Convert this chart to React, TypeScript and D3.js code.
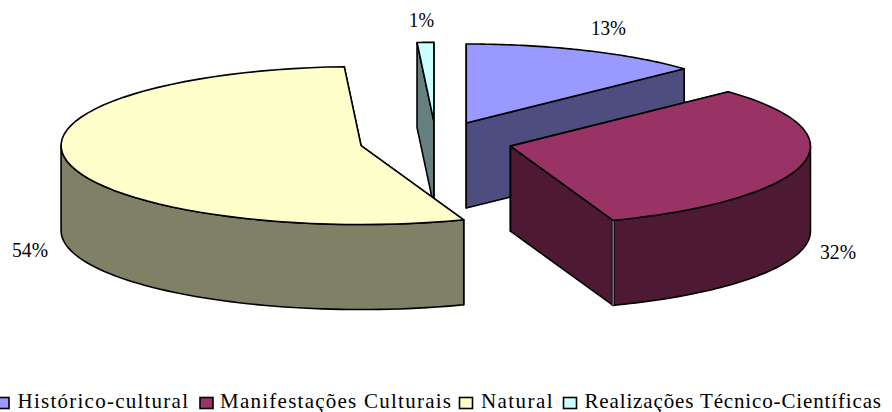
import React from "react";
import * as d3 from "d3";

const categories = ["Histórico-cultural", "Manifestações Culturais", "Natural", "Realizações Técnico-Científicas"];
const shares = [12.9, 31.4, 54.49, 0.89];
const labels = ["13%", "32%", "54%", "1%"];
const topColors = ["#9999FF", "#993366", "#FFFFCC", "#CCFFFF"];
const sideColors = ["#4D4D80", "#4D1933", "#808066", "#668080"];
const paintOrder = [3, 0, 2, 1];

const WIDTH = 892, HEIGHT = 412;
const CX = 436, CY = 141.5, RX = 300, RY = 79, DEPTH = 85, EXPLODE = 0.255;
const SERIF = "'Liberation Serif', 'Times New Roman', serif";

const labelBoxes = [
  { x: 591, y: 35, w: 35 },
  { x: 820, y: 259, w: 36 },
  { x: 12, y: 257, w: 36 },
  { x: 409, y: 27, w: 25 },
];
const legendBoxes = [
  { sx: -4, tx: 17.5, tw: 170.5 },
  { sx: 200, tx: 220, tw: 231 },
  { sx: 459.5, tx: 481, tw: 71.5 },
  { sx: 563.5, tx: 584.5, tw: 296.5 },
];

const xScale = d3.scaleLinear().domain([-1, 1]).range([CX - RX, CX + RX]);
const yScale = d3.scaleLinear().domain([-1, 1]).range([CY - RY, CY + RY]);
const arcs = d3.pie<number>().sort(null).value((d) => d)(shares);
const line = d3.line<[number, number]>();
const ring = (a0: number, a1: number) =>
  d3.range(0, 61).map((i) => a0 + ((a1 - a0) * i) / 60);

function slicePaths(i: number) {
  const { startAngle: a0, endAngle: a1 } = arcs[i];
  const mid = (a0 + a1) / 2;
  const ox = EXPLODE * Math.sin(mid);
  const oy = -EXPLODE * Math.cos(mid);
  const pt = (a: number, r = 1, dz = 0): [number, number] => [
    xScale(ox + r * Math.sin(a)),
    yScale(oy - r * Math.cos(a)) + dz,
  ];
  const top = line([pt(a0, 0), ...ring(a0, a1).map((a) => pt(a))])! + "Z";
  const face = (a: number) =>
    line([pt(a, 0), pt(a), pt(a, 1, DEPTH), pt(a, 0, DEPTH)])! + "Z";
  const w0 = Math.max(a0, Math.PI / 2);
  const w1 = Math.min(a1, (3 * Math.PI) / 2);
  const wall =
    w1 > w0
      ? line([
          ...ring(w0, w1).map((a) => pt(a)),
          ...ring(w1, w0).map((a) => pt(a, 1, DEPTH)),
        ])! + "Z"
      : null;
  const seam = line([pt(a1), pt(a1, 1, DEPTH)])!;
  return { top, faces: [face(a0), face(a1)], wall, seam };
}

export default function App() {
  return (
    <svg
      width={WIDTH}
      height={HEIGHT}
      viewBox={`0 0 ${WIDTH} ${HEIGHT}`}
      style={{ position: "absolute", left: 0, top: 0, background: "#fff" }}
      fontFamily={SERIF}
    >
      {paintOrder.map((i) => {
        const p = slicePaths(i);
        return (
          <g key={categories[i]} stroke="#000" strokeWidth={1.6} strokeLinejoin="round">
            {p.faces.map((d, k) => (
              <path key={k} d={d} fill={sideColors[i]} />
            ))}
            {p.wall && <path d={p.wall} fill={sideColors[i]} />}
            {i === 1 && <path d={p.seam} strokeWidth={3} fill="none" />}
            {i === 1 && <path d={p.seam} stroke="#c8c8c8" strokeWidth={0.9} fill="none" />}
            <path d={p.top} fill={topColors[i]} />
          </g>
        );
      })}
      {labels.map((t, i) => (
        <text
          key={t}
          x={labelBoxes[i].x}
          y={labelBoxes[i].y}
          fontSize={21}
          fill="#000"
          textLength={labelBoxes[i].w}
          lengthAdjust="spacingAndGlyphs"
        >
          {t}
        </text>
      ))}
      {categories.map((c, i) => (
        <g key={c}>
          <rect
            x={legendBoxes[i].sx}
            y={397.5}
            width={13}
            height={11}
            fill={topColors[i]}
            stroke="#000"
            strokeWidth={1.6}
          />
          <text
            x={legendBoxes[i].tx}
            y={407.5}
            fontSize={21}
            fill="#000"
            textLength={legendBoxes[i].tw}
            lengthAdjust="spacing"
          >
            {c}
          </text>
        </g>
      ))}
    </svg>
  );
}
